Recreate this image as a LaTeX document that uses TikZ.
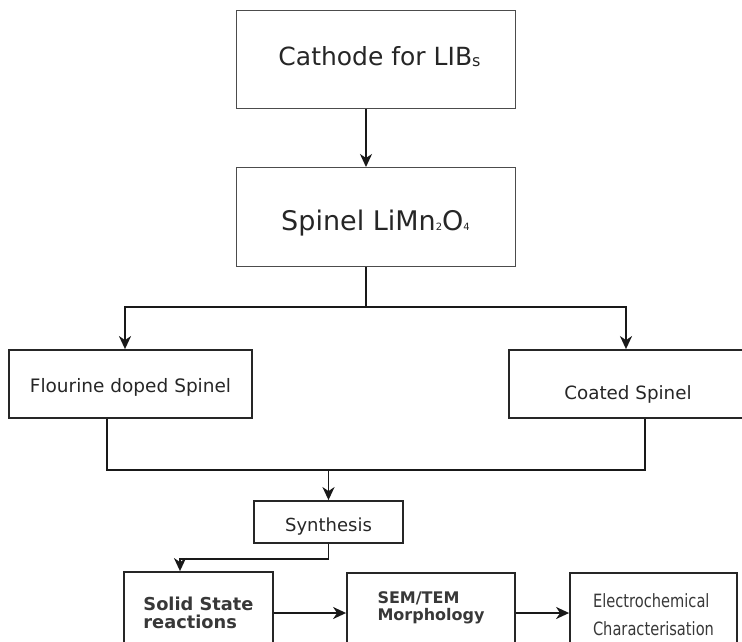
\documentclass[tikz,border=0pt]{standalone}
\usepackage{fontspec}
\setmainfont{DejaVu Sans}
\newfontfamily\narrowfont[FakeStretch=0.8]{DejaVu Sans}
\usepackage{tikz}
\usetikzlibrary{positioning, arrows.meta, calc}
\newcommand{\tinysub}[2]{{\fontsize{#2}{#2}\selectfont #1}}

\begin{document}
\begin{tikzpicture}[
  x=1pt, y=-1pt,
  topbox/.style={rectangle, draw=black!70, line width=1pt, text=black!85, text depth=0pt},
  box/.style={rectangle, draw=black!85, line width=1.8pt, text=black!85, text depth=0pt},
  rowbox/.style={box, align=left, text=black!78},
  arr/.style={-{Stealth[length=13pt, width=12pt, inset=4pt]}, line width=1.9pt, draw=black!90},
  link/.style={line width=1.9pt, draw=black!90},
  >=Stealth
]
\useasboundingbox (0,0) rectangle (742,641);

\node[topbox, minimum width=279pt, minimum height=98pt, text height=13.4pt,
  font=\fontsize{25}{28}\selectfont] (cathode) at (375.5,59)
  {\hspace*{8pt}Cathode for LIB\raisebox{-1pt}{\tinysub{s}{16}}};
\node[topbox, minimum width=279pt, minimum height=99pt, text height=27pt,
  font=\fontsize{27}{30}\selectfont, below=58.5pt of cathode] (spinel)
  {Spinel LiMn\tinysub{2}{10}O\tinysub{4}{10}};

\node[box, minimum width=243pt, minimum height=68pt, text height=16pt,
  font=\fontsize{18.5}{22}\selectfont] (fluor) at (130.5,384) {Flourine doped Spinel};
\node[box, minimum width=238pt, minimum height=68pt, text height=31pt,
  font=\fontsize{18.3}{22}\selectfont] (coated) at (628,384) {Coated Spinel};

\node[box, minimum width=149pt, minimum height=42pt, text height=19pt,
  font=\fontsize{18}{22}\selectfont] (synth) at (328.5,522) {Synthesis};

\node[rowbox, minimum width=149pt, minimum height=82pt, text height=30pt,
  font=\fontsize{17.8}{18}\selectfont\bfseries] (solid) at (198.5,613) {Solid State\\reactions};
\node[rowbox, minimum width=168pt, minimum height=80pt, text height=14pt,
  font=\fontsize{16}{17}\selectfont\bfseries] (sem) at (431,613) {SEM/TEM\\Morphology};
\node[rowbox, minimum width=167pt, minimum height=80pt, text height=44pt,
  font=\fontsize{18.3}{28}\narrowfont] (elec) at (653.5,613) {Electrochemical\\Characterisation};

\coordinate (split) at ([yshift=-40pt]spinel.south -| 366,0);
\coordinate (merge) at ([yshift=30pt]synth.north);

\draw[arr] ([xshift=-9.5pt]cathode.south) -- ([xshift=-9.5pt]spinel.north);
\draw[link] ([xshift=-9.5pt]spinel.south) -- (split);
\draw[arr] (split) -| ([xshift=-5.5pt]fluor.north);
\draw[arr] (split) -| ([xshift=-2pt]coated.north);
\draw[link] ([xshift=-23.5pt]fluor.south) |- (merge) -| ([xshift=17pt]coated.south);
\draw[arr] (merge) -- (synth.north);
\draw[arr] (synth.south) -- ([yshift=-15pt]synth.south) -| ([xshift=-18.5pt]solid.north);
\draw[arr] (solid.east) -- (solid.east -| sem.west);
\draw[arr] (sem.east) -- (elec.west);
\end{tikzpicture}
\end{document}
